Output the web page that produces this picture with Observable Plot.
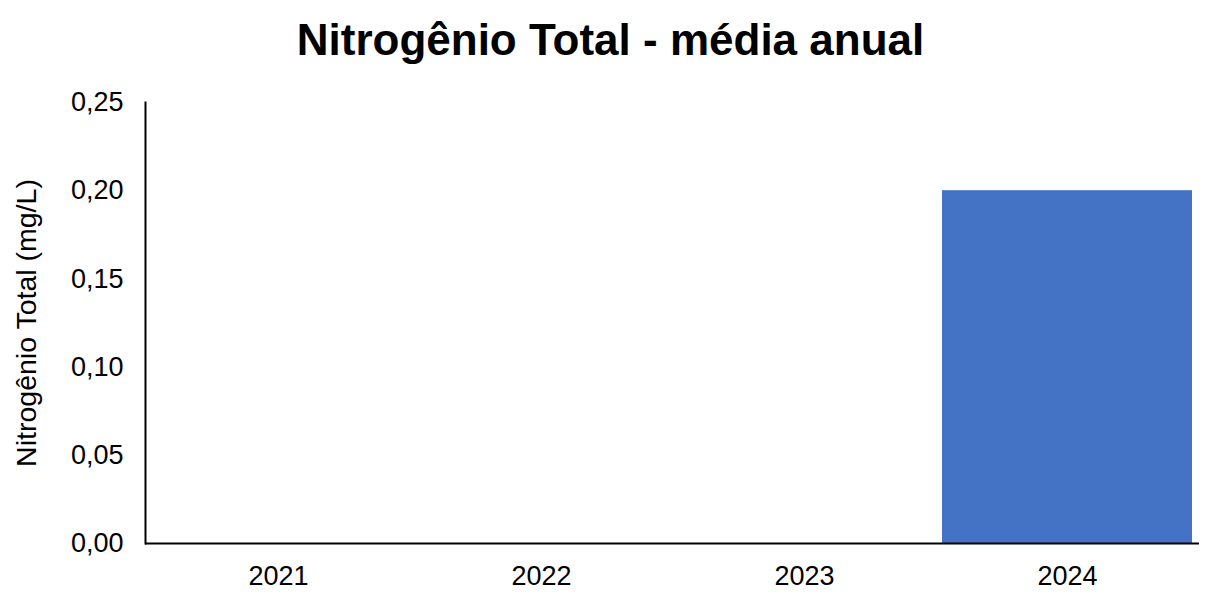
<!DOCTYPE html>
<html>
<head>
<meta charset="utf-8">
<script src="https://cdn.jsdelivr.net/npm/d3@7"></script>
<script src="https://cdn.jsdelivr.net/npm/@observablehq/plot@0.6"></script>
<style>
  html, body { margin: 0; padding: 0; background: #fff; }
  #wrap { width: 1221px; height: 600px; position: relative; font-family: "Liberation Sans", Arial, sans-serif; }
  #title { position: absolute; left: 0; top: 0; width: 1221px; height: 80px; text-align: center; font-weight: bold; font-size: 44px; line-height: 80px; color: #000; }
  #chart { position: absolute; left: 0; top: 80px; }
</style>
</head>
<body>
<div id="wrap">
  <div id="title">Nitrogênio Total - média anual</div>
  <div id="chart"></div>
</div>
<script>
const years = ["2021", "2022", "2023", "2024"];
const values = [null, null, null, 0.20];
const yTicks = [0, 0.05, 0.10, 0.15, 0.20, 0.25];
const yLabel = "Nitrogênio Total (mg/L)";

const data = years.map((y, i) => ({year: y, value: values[i]}));
const fmt = v => v.toFixed(2).replace(".", ",");

const plot = Plot.plot({
  width: 1221,
  height: 520,
  marginTop: 22,
  marginBottom: 57,
  marginLeft: 145,
  marginRight: 22,
  style: {fontFamily: "'Liberation Sans', Arial, sans-serif", fontSize: "27px", color: "#000", background: "#fff"},
  x: {domain: years, paddingInner: 0.05, paddingOuter: 0.025, label: null},
  y: {domain: [0, 0.25], label: null},
  marks: [
    Plot.barY(data.filter(d => d.value != null), {x: "year", y: "value", fill: "#4472C4"}),
    Plot.axisX({tickSize: 0, tickPadding: 22, fontSize: 27, label: null, stroke: "none"}),
    Plot.axisY({ticks: yTicks, tickSize: 0, tickPadding: 22, tickFormat: fmt, fontSize: 27, label: null}),
    Plot.ruleY([0], {stroke: "#000", strokeWidth: 2}),
    Plot.frame({anchor: "left", stroke: "#000", strokeWidth: 2}),
    Plot.text([yLabel], {frameAnchor: "left", dx: -119, rotate: -90, fontSize: 28.5, fill: "#000", textAnchor: "middle"})
  ]
});
document.getElementById("chart").appendChild(plot);
</script>
</body>
</html>
